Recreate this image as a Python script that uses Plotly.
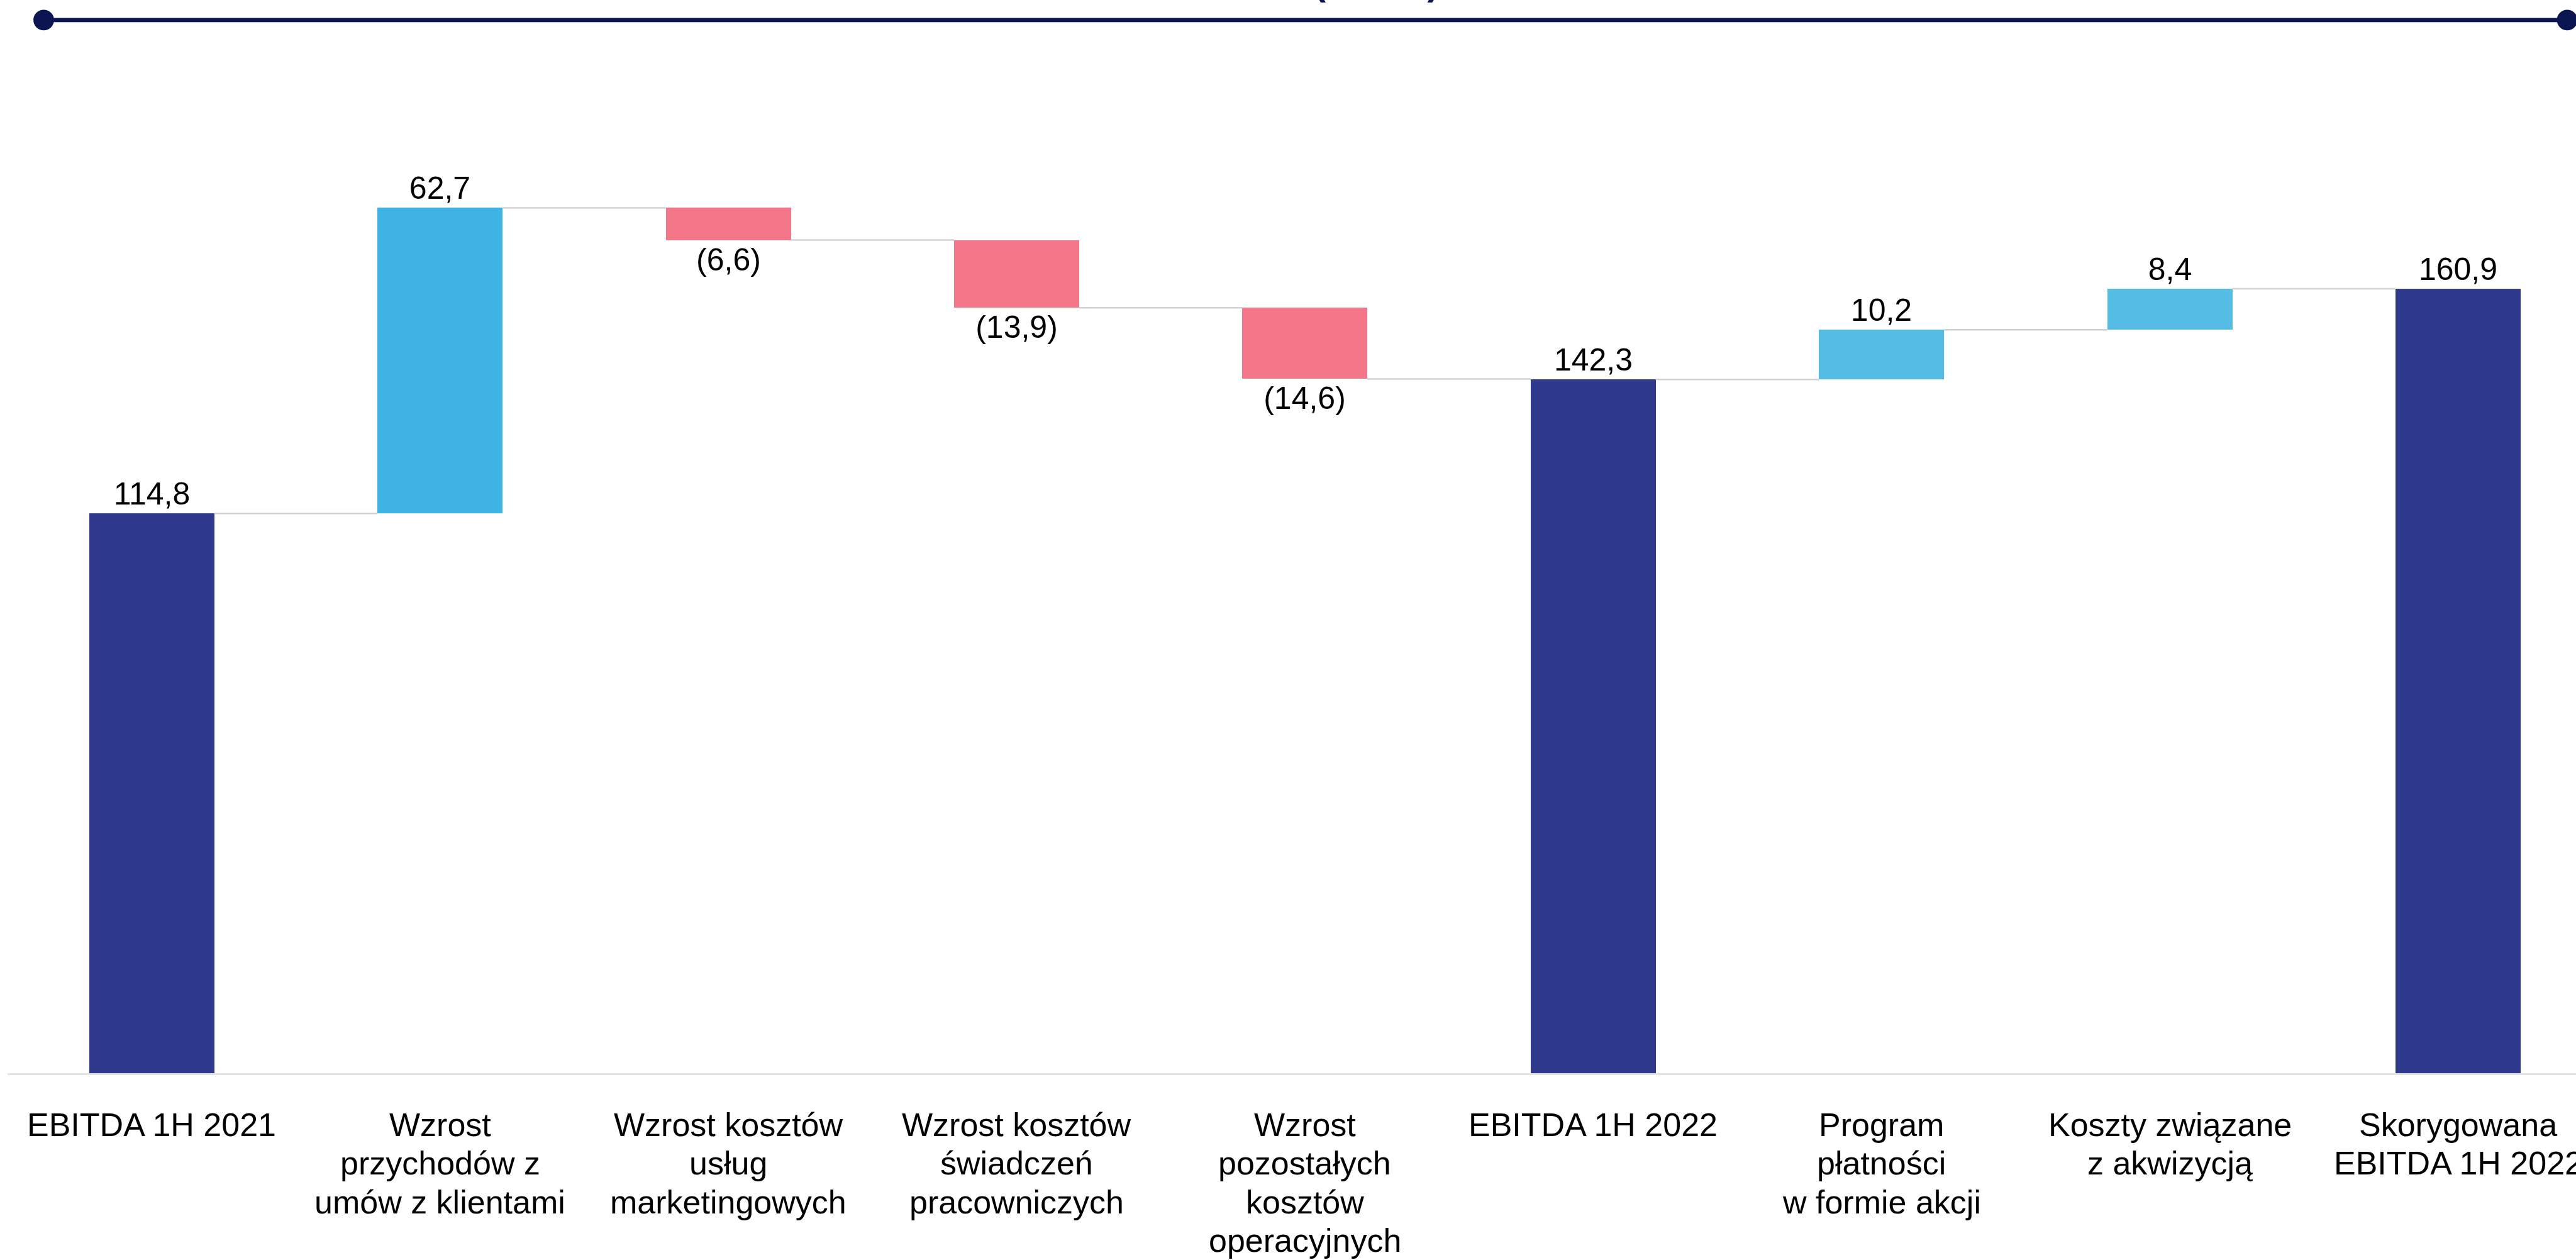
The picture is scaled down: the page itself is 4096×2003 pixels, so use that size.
import plotly.graph_objects as go

# EBITDA bridge: 1H 2021 -> 1H 2022 -> adjusted 1H 2022 (mln zł)
categories = [
    "EBITDA 1H 2021",
    "Wzrost\nprzychodów z\numów z klientami",
    "Wzrost kosztów\nusług\nmarketingowych",
    "Wzrost kosztów\nświadczeń\npracowniczych",
    "Wzrost\npozostałych\nkosztów\noperacyjnych",
    "EBITDA 1H 2022",
    "Program\npłatności\nw formie akcji",
    "Koszty związane\nz akwizycją",
    "Skorygowana\nEBITDA 1H 2022",
]
values = [114.8, 62.7, -6.6, -13.9, -14.6, 142.3, 10.2, 8.4, 160.9]
kinds = ["total", "increase", "decrease", "decrease", "decrease",
         "total", "adjustment", "adjustment", "total"]

COLORS = {
    "total": "#2f3a8c",
    "increase": "#3fb4e4",
    "decrease": "#f37789",
    "adjustment": "#55bce6",
}
NAVY = "#0b1552"
FONT = "Liberation Sans, Arial, sans-serif"
BAR_W = 0.434


def fmt(v):
    s = f"{abs(v):.1f}".replace(".", ",")
    return f"({s})" if v < 0 else s


# running levels for floating bars
bases, ends = [], []
level = 0.0
for v, k in zip(values, kinds):
    if k == "total":
        bases.append(0.0)
        level = v
    else:
        bases.append(level)
        level += v
    ends.append(level)

xs = list(range(len(values)))

# connector segments between neighbouring bars
cx, cy = [], []
for i in range(len(values) - 1):
    cx += [i + BAR_W / 2, i + 1 - BAR_W / 2, None]
    cy += [ends[i], ends[i], None]

fig = go.Figure()
fig.add_trace(go.Scatter(
    x=cx, y=cy, mode="lines",
    line=dict(color="#d2d2d2", width=2.5),
    hoverinfo="skip", showlegend=False,
))
fig.add_trace(go.Bar(
    x=xs, y=values, base=bases, width=BAR_W,
    marker=dict(color=[COLORS[k] for k in kinds], line=dict(width=0)),
    text=[fmt(v) for v in values],
    textposition="outside",
    textfont=dict(family=FONT, size=50, color="#000000"),
    constraintext="none",
    cliponaxis=False,
    hoverinfo="skip", showlegend=False,
))

# category labels, one annotation per line for tight line spacing
annotations = []
FIRST_LINE = 81.5
LINE_STEP = 61.5
for i, lab in enumerate(categories):
    for j, line in enumerate(lab.split("\n")):
        annotations.append(dict(
            x=i, y=0, xref="x", yref="y",
            text=line, showarrow=False,
            xanchor="center", yanchor="middle",
            yshift=-(FIRST_LINE + LINE_STEP * j),
            font=dict(family=FONT, size=52, color="#000000"),
        ))

PLOT_L, PLOT_R = 12, 4096
PLOT_H = 1706


def px_x(p):
    return (p - PLOT_L) / (PLOT_R - PLOT_L)


def px_y(p):
    return 1 - p / PLOT_H


# heading above the rule
annotations.append(dict(
    x=px_x(2290), y=px_y(6), xref="paper", yref="paper",
    text="<b>EBITDA (mln zł)</b>", showarrow=False,
    xanchor="right", yanchor="bottom",
    font=dict(family=FONT, size=57, color=NAVY),
))

# rule with round end caps at the top
rule_y = px_y(31.8)
x_left, x_right = px_x(69.5), px_x(4082)
shapes = [
    dict(type="line", xref="paper", yref="paper",
         x0=x_left, x1=x_right, y0=rule_y, y1=rule_y,
         line=dict(color=NAVY, width=6.8)),
]
for xc in (x_left, x_right):
    shapes.append(dict(
        type="circle", xref="paper", yref="paper",
        xsizemode="pixel", ysizemode="pixel",
        xanchor=xc, yanchor=rule_y,
        x0=-16.4, x1=16.4, y0=-16.4, y1=16.4,
        fillcolor=NAVY, line=dict(width=0),
    ))

fig.update_layout(
    width=4096, height=2003,
    margin=dict(l=PLOT_L, r=0, t=0, b=2003 - PLOT_H),
    paper_bgcolor="white", plot_bgcolor="white",
    bargap=0,
    xaxis=dict(
        range=[-0.5, 8.409], showgrid=False, zeroline=False,
        showticklabels=False, ticks="",
        showline=True, linecolor="#e3e3e3", linewidth=3,
    ),
    yaxis=dict(range=[0, 220.13], visible=False),
    annotations=annotations,
    shapes=shapes,
    font=dict(family=FONT),
)

fig.write_html("out.html")
